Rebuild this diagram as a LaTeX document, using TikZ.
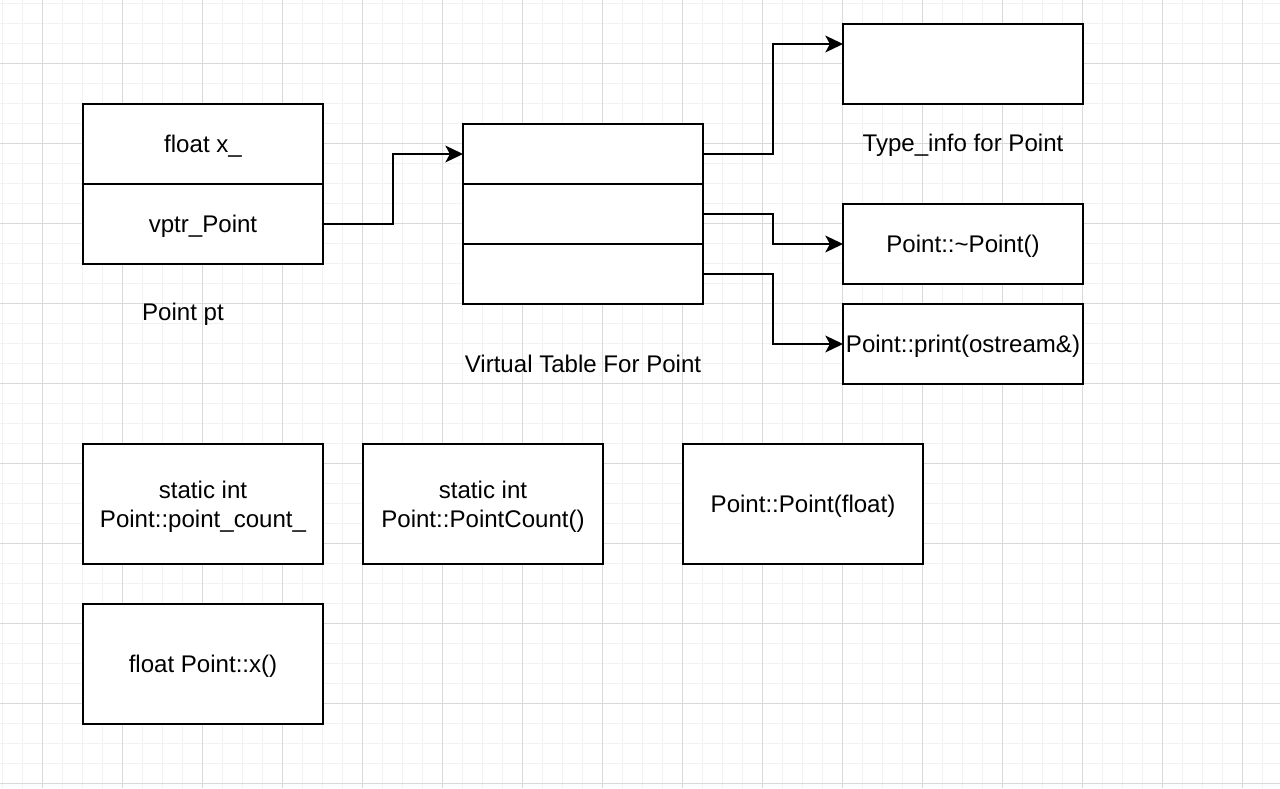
\documentclass[tikz,border=0pt]{standalone}
\usepackage{fontspec}
\setmainfont{Liberation Sans}
\usetikzlibrary{arrows.meta,positioning}

\begin{document}
\begin{tikzpicture}[x=0.02cm,y=-0.02cm,->,>={Stealth[length=10pt,width=9.5pt,inset=2.5pt]},
                line width=1.3pt,font=\fontsize{13.7}{16.5}\selectfont,
                cell/.style={draw,fill=white,minimum width=4.8cm,minimum height=1.6cm,
                  inner sep=0pt,outer sep=0pt,align=center,text depth=-2pt,-},
                row/.style={cell,minimum height=1.2cm},
                tall/.style={cell,minimum height=2.4cm},
                caption/.style={inner sep=0pt},
                minorgrid/.style={-,line width=0.55pt,black!5},
                majorgrid/.style={-,line width=0.55pt,black!15}]
  % paper and grid
  \fill[white] (0,0) rectangle (1280,788);
  \useasboundingbox (0,0) rectangle (1280,788);
  \foreach \gx in {2,22,...,1282} \draw[minorgrid] (\gx,0) -- (\gx,788);
  \foreach \gy in {3,23,...,783} \draw[minorgrid] (0,\gy) -- (1280,\gy);
  \foreach \gx in {42,122,...,1282} \draw[majorgrid] (\gx,0) -- (\gx,788);
  \foreach \gy in {63,143,...,783} \draw[majorgrid] (0,\gy) -- (1280,\gy);

  % object
  \node[cell] (fx) at (203,144) {float x\_};
  \node[cell] (vptr) [below=0pt of fx] {vptr\_Point};
  \node[caption] (ptlbl) at (183,314) {Point pt};

  % virtual table
  \node[row] (vt1) at (583,154) {};
  \node[row] (vt2) [below=0pt of vt1] {};
  \node[row] (vt3) [below=0pt of vt2] {};
  \node[caption] (vtlbl) at (583,364) {Virtual Table For Point};

  % entries
  \node[cell] (ti) at (963,64) {};
  \node[caption] (tilbl) at (963,145) {Type\_info for Point};
  \node[cell] (dtor) at (963,244) {Point::\textasciitilde Point()};
  \node[cell] (prn) at (963,344) {Point::print(ostream\&)};

  % members
  \node[tall] (cnt) at (203,504) {static int\\Point::point\_count\_};
  \node[tall] (pcnt) at (483,504) {static int\\Point::PointCount()};
  \node[tall] (ctor) at (803,504) {Point::Point(float)};
  \node[tall] (getx) at (203,664) {float Point::x()};

  \draw (vptr.east) -- ++(70,0) |- (vt1.west);
  \draw (vt1.east) -- ++(70,0) |- ([yshift=0.4cm]ti.west);
  \draw (vt2.east) -- ++(70,0) |- (dtor.west);
  \draw (vt3.east) -- ++(70,0) |- (prn.west);
\end{tikzpicture}
\end{document}
